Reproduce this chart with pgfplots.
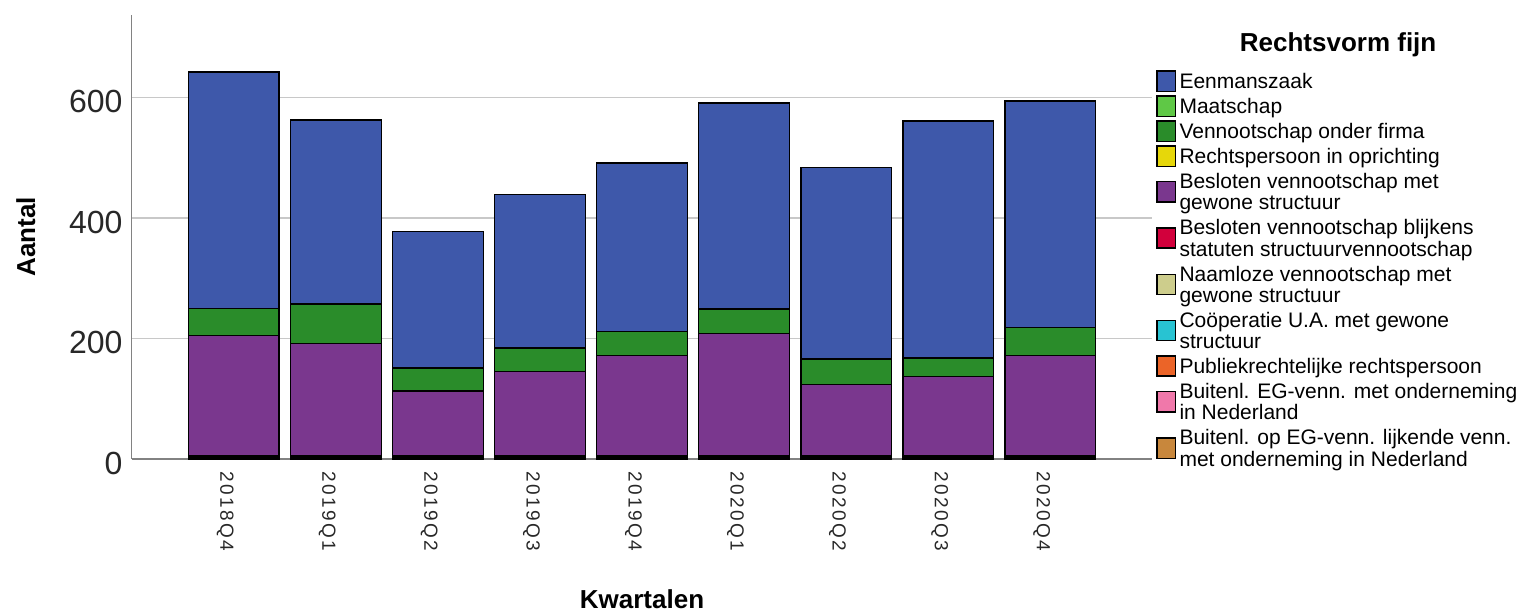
\documentclass[border=0pt]{standalone}
\usepackage{fontspec}
\setmainfont{Liberation Sans}
\newfontfamily\xtfont[LetterSpace=12]{Liberation Sans}
\usepackage{pgfplots}
\pgfplotsset{compat=1.18}
\definecolor{een}{RGB}{62,88,170}
\definecolor{maat}{RGB}{95,200,70}
\definecolor{vof}{RGB}{42,140,42}
\definecolor{recht}{RGB}{230,215,10}
\definecolor{bv}{RGB}{122,55,142}
\definecolor{bvb}{RGB}{210,0,60}
\definecolor{nv}{RGB}{205,205,140}
\definecolor{coop}{RGB}{40,195,210}
\definecolor{pub}{RGB}{235,100,40}
\definecolor{buiteg}{RGB}{240,120,170}
\definecolor{buitop}{RGB}{200,135,60}
\definecolor{axisgray}{RGB}{130,130,130}
\definecolor{gridgray}{RGB}{200,200,200}
\definecolor{tickgray}{RGB}{40,40,40}
\newcommand\legtab[1]{\begin{tabular}{@{}l@{}}#1\end{tabular}}

% columns: quarter index, then series values
\pgfplotstableread{
x buitop buiteg pub coop nv bvb bv recht vof maat een
0 1 0 0 1 2 1 200 0 45 0 392
1 1 0 0 1 2 1 187 0 65 0 306
2 1 0 0 1 2 1 108 0 38 0 227
3 1 0 0 1 2 1 140 0 39 0 255
4 1 0 0 1 2 1 167 0 40 0 279
5 1 0 0 1 2 1 203 0 41 0 342
6 1 0 0 1 2 1 119 0 42 0 318
7 1 0 0 1 2 1 132 0 31 0 393
8 1 0 0 1 2 1 167 0 46 0 376
}\datatable

\begin{document}
\begin{tikzpicture}
\path[use as bounding box] (0pt,0pt) rectangle (1520pt,612pt);
\begin{axis}[
  at={(131.7pt,153pt)}, anchor=south west,
  scale only axis, width=1020.6pt, height=444pt,
  xmin=-1, xmax=9, ymin=0, ymax=737,
  ybar stacked, bar width=0.89,
  axis lines*=left,
  x axis line style={-}, y axis line style={-},
  axis line style={draw=axisgray, line width=1.5pt},
  xtick={0,...,8},
  xticklabels={2018Q4,2019Q1,2019Q2,2019Q3,2019Q4,2020Q1,2020Q2,2020Q3,2020Q4},
  ytick={0,200,400,600},
  major tick length=0pt,
  ymajorgrids,
  major grid style={draw=gridgray, line width=1.8pt},
  /pgf/number format/assume math mode=true,
  yticklabel style={font=\fontsize{32}{32}\selectfont, anchor=east, inner sep=0pt, xshift=-9pt, yshift=-4pt, text=tickgray},
  xticklabel style={font=\xtfont\fontsize{19}{19}\selectfont, rotate=-90, anchor=north west, inner sep=0pt, text=tickgray},
  xticklabel shift=12.7pt,
  xlabel={Kwartalen},
  xlabel style={at={(axis description cs:0.5,-0.3153)}, anchor=center, font=\bfseries\fontsize{26}{26}\selectfont},
  ylabel={Aantal},
  ylabel style={at={(axis description cs:-0.1036,0.5)}, anchor=center, font=\bfseries\fontsize{26}{26}\selectfont},
  every axis plot/.append style={draw=black, line width=1.5pt},
  reverse legend,
  legend cell align=left,
  legend style={at={(axis description cs:1.00436,0.8687)}, anchor=north west, draw=none, fill=none, inner sep=0pt, row sep=3.5pt, column sep=4pt, font=\fontsize{21}{21}\selectfont, nodes={inner sep=0pt, text depth=}},
  legend image code/.code={\draw[#1, draw=black, line width=1.5pt, overlay] (0pt,-7.1pt) rectangle (18.5pt,13.1pt); \path[draw=none, fill=none] (0pt,0pt) rectangle (18.5pt,1pt);},
  clip=false,
]
\addplot[fill=buitop] table[x=x,y=buitop]{\datatable};
\addlegendentry{\legtab{Buitenl. op EG-venn. lijkende venn.\\met onderneming in Nederland}}
\addplot[fill=buiteg] table[x=x,y=buiteg]{\datatable};
\addlegendentry{\legtab{Buitenl. EG-venn. met onderneming\\in Nederland}}
\addplot[fill=pub] table[x=x,y=pub]{\datatable};
\addlegendentry{\legtab{Publiekrechtelijke rechtspersoon}}
\addplot[fill=coop] table[x=x,y=coop]{\datatable};
\addlegendentry{\legtab{Coöperatie U.A. met gewone\\structuur}}
\addplot[fill=nv] table[x=x,y=nv]{\datatable};
\addlegendentry{\legtab{Naamloze vennootschap met\\gewone structuur}}
\addplot[fill=bvb] table[x=x,y=bvb]{\datatable};
\addlegendentry{\legtab{Besloten vennootschap blijkens\\statuten structuurvennootschap}}
\addplot[fill=bv] table[x=x,y=bv]{\datatable};
\addlegendentry{\legtab{Besloten vennootschap met\\gewone structuur}}
\addplot[fill=recht] table[x=x,y=recht]{\datatable};
\addlegendentry{\legtab{Rechtspersoon in oprichting}}
\addplot[fill=vof] table[x=x,y=vof]{\datatable};
\addlegendentry{\legtab{Vennootschap onder firma}}
\addplot[fill=maat] table[x=x,y=maat]{\datatable};
\addlegendentry{\legtab{Maatschap}}
\addplot[fill=een] table[x=x,y=een]{\datatable};
\addlegendentry{\legtab{Eenmanszaak}}
\node[font=\bfseries\fontsize{26}{26}\selectfont, anchor=base] at (axis description cs:1.1820,0.9178) {Rechtsvorm fijn};
\end{axis}
\end{tikzpicture}
\end{document}
